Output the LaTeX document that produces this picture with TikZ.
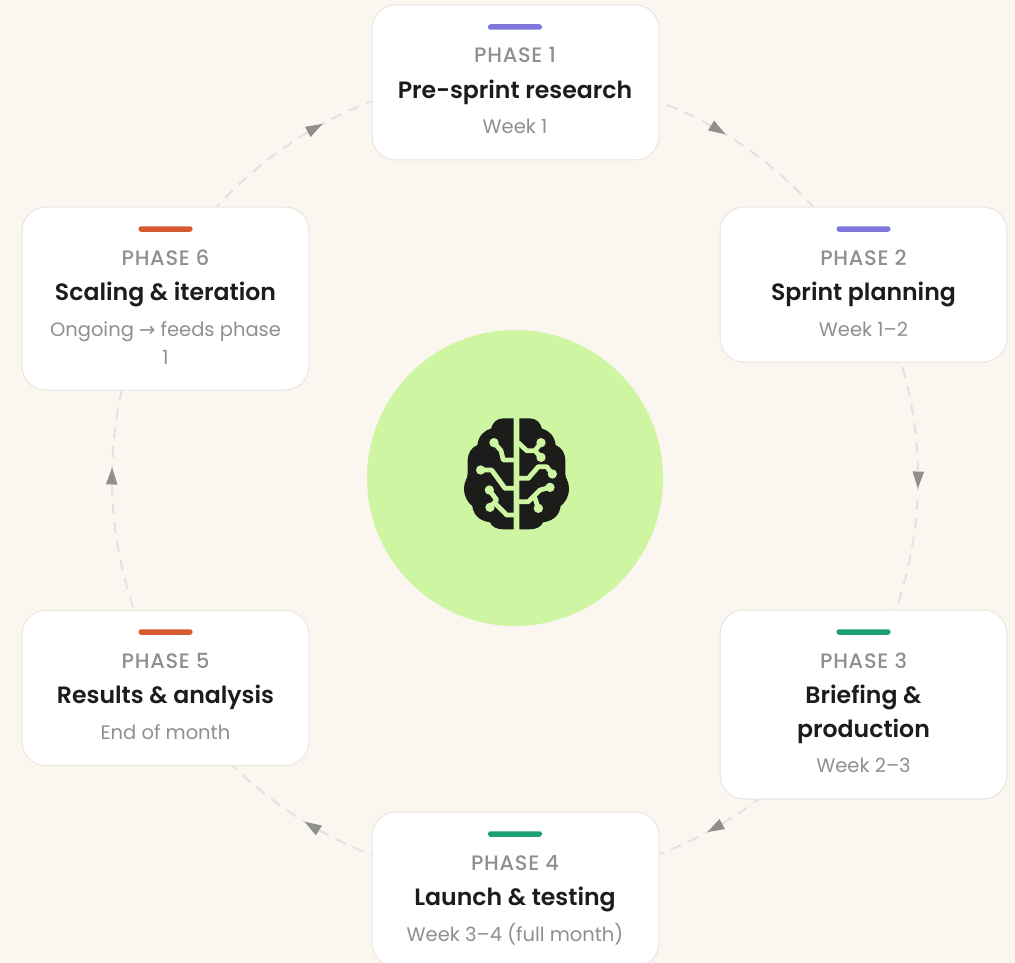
\documentclass[tikz,border=0pt]{standalone}
\usepackage{fontspec}
\setmainfont{Poppins}
\newfontfamily\arrowfont{DejaVu Sans}
\newfontfamily\medfont[LetterSpace=3.5]{Poppins Medium}
\newfontfamily\semifont{Poppins SemiBold}
\usetikzlibrary{arrows.meta,decorations.markings,calc}
\definecolor{bgc}{HTML}{FCF6F0}
\definecolor{cardline}{HTML}{E8E6E1}
\definecolor{ringc}{HTML}{E4E2DE}
\definecolor{tipc}{HTML}{8F8F8B}
\definecolor{greyt}{HTML}{8F8F8C}
\definecolor{darkt}{HTML}{1C1C1A}
\definecolor{purplec}{HTML}{7F77DD}
\definecolor{greenc}{HTML}{1D9E75}
\definecolor{orangec}{HTML}{D85A30}
\definecolor{hubc}{HTML}{CDF5A2}
\tikzset{
  card/.style={draw=cardline,line width=1pt,fill=white,rounded corners=24pt,inner sep=0pt,minimum width=287pt},
  tagbar/.style={fill=#1,rounded corners=2.5pt,inner sep=0pt,minimum width=54pt,minimum height=5.5pt},
  phaselabel/.style={anchor=base,inner sep=0pt,text=greyt,font=\fontsize{20.9}{24}\medfont},
  titlelabel/.style={anchor=base,inner sep=0pt,text=darkt,font=\fontsize{23.6}{28}\semifont},
  sublabel/.style={anchor=base,inner sep=0pt,text=greyt,font=\fontsize{19.5}{24}\selectfont},
  ring/.style={draw=ringc,line width=2pt,dash pattern=on 11pt off 8pt,dash phase=15.3pt,
    postaction={decorate},
    decoration={markings,mark=at position 0.525 with {\arrow[tipc,solid]{Triangle[length=17pt,width=11pt]}}}},
  wire/.style={draw=hubc,line width=4.8pt,line cap=round,line join=round},
  pin/.style={fill=hubc},
}
\begin{document}
\begin{tikzpicture}[x=1pt,y=-1pt]
\useasboundingbox[fill=bgc] (0,0) rectangle (1015,963);
\coordinate (p1) at ($(515,478)+(-90:403)$);
\coordinate (p2) at ($(515,478)+(-30:403)$);
\coordinate (p3) at ($(515,478)+(30:403)$);
\coordinate (p4) at ($(515,478)+(90:403)$);
\coordinate (p5) at ($(515,478)+(150:403)$);
\coordinate (p6) at ($(515,478)+(210:403)$);
\draw[ring] (p1) arc[start angle=-90,end angle=-30,radius=403];
\draw[ring] (p2) arc[start angle=-30,end angle=30,radius=403];
\draw[ring] (p3) arc[start angle=30,end angle=90,radius=403];
\draw[ring] (p4) arc[start angle=90,end angle=150,radius=403];
\draw[ring] (p5) arc[start angle=150,end angle=210,radius=403];
\draw[ring] (p6) arc[start angle=210,end angle=270,radius=403];
% hub
\node[circle,fill=hubc,inner sep=0pt,minimum size=296pt] (hub) at (515,478) {};
% cards
\node[card,minimum height=155pt] (c1) at (515.5,82.5) {};
\node[card,minimum height=155pt] (c2) at (863.5,284.5) {};
\node[card,minimum height=189pt] (c3) at (863.5,704.5) {};
\node[card,minimum height=155pt] (c4) at (515.5,889.5) {};
\node[card,minimum height=155pt] (c5) at (165.5,688) {};
\node[card,minimum height=183pt] (c6) at (165.5,298.5) {};
% bars
\node[tagbar=purplec] (b1) at (515,27) {};
\node[tagbar=purplec] (b2) at (863.5,229) {};
\node[tagbar=greenc] (b3) at (863.5,632) {};
\node[tagbar=greenc] (b4) at (515,834) {};
\node[tagbar=orangec] (b5) at (165.5,632) {};
\node[tagbar=orangec] (b6) at (165.5,229) {};
% texts
\node[phaselabel] (t1a) at (515,63) {PHASE 1};
\node[titlelabel] (t1b) at (515,98.5) {Pre-sprint research};
\node[sublabel] (t1c) at (515,134) {Week 1};
\node[phaselabel] (t2a) at (863.5,265) {PHASE 2};
\node[titlelabel] (t2b) at (863.5,300.5) {Sprint planning};
\node[sublabel] (t2c) at (863.5,336) {Week 1–2};
\node[phaselabel] (t3a) at (863.5,668) {PHASE 3};
\node[titlelabel] (t3b) at (863.5,703.5) {Briefing \&};
\node[titlelabel] (t3d) at (863.5,737) {production};
\node[sublabel] (t3c) at (863.5,772) {Week 2–3};
\node[phaselabel] (t4a) at (515,870) {PHASE 4};
\node[titlelabel] (t4b) at (515,905.5) {Launch \& testing};
\node[sublabel] (t4c) at (515,941) {Week 3–4 (full month)};
\node[phaselabel] (t5a) at (165.5,668) {PHASE 5};
\node[titlelabel] (t5b) at (165.5,703.5) {Results \& analysis};
\node[sublabel] (t5c) at (165.5,739) {End of month};
\node[phaselabel] (t6a) at (165.5,265) {PHASE 6};
\node[titlelabel] (t6b) at (165.5,300.5) {Scaling \& iteration};
\node[sublabel] (t6c) at (165.5,336) {Ongoing {\arrowfont→} feeds phase};
\node[sublabel] (t6d) at (165.5,364) {1};
% brain icon, drawn in 3x coordinates
\begin{scope}[shift={(440pt,-400pt)},x=0.33333pt,y=-0.33333pt]
\fill[darkt] (221,55) -- (190,55) .. controls (170,55) and (158,68) .. (153,86)
  .. controls (130,92) and (115,110) .. (112,135)
  .. controls (95,142) and (83,160) .. (83,180) -- (83,222)
  .. controls (83,235) and (72,245) .. (72,265)
  .. controls (72,290) and (85,310) .. (97,318)
  .. controls (100,342) and (115,362) .. (150,367)
  .. controls (155,380) and (170,388) .. (190,388) -- (221,388) -- cycle;
\fill[darkt] (238,55) -- (269,55) .. controls (289,55) and (301,68) .. (306,86)
  .. controls (329,92) and (344,110) .. (347,135)
  .. controls (364,142) and (376,160) .. (376,180) -- (376,222)
  .. controls (376,235) and (387,245) .. (387,265)
  .. controls (387,290) and (374,310) .. (362,318)
  .. controls (359,342) and (344,362) .. (309,367)
  .. controls (304,380) and (289,388) .. (269,388) -- (238,388) -- cycle;
\draw[wire] (162,128) -- (183,152) -- (190,180) -- (222,180);
\draw[wire] (122,210) -- (155,210) -- (195,265) -- (222,265);
\draw[wire] (148,270) -- (170,300) -- (150,322);
\draw[wire] (165,310) -- (200,345) -- (222,345);
\draw[wire] (237,130) -- (260,152) -- (285,152) -- (303,128);
\draw[wire] (285,152) -- (303,172);
\draw[wire] (237,235) -- (265,235) -- (295,200) -- (320,200) -- (337,222);
\draw[wire] (237,305) -- (265,305) -- (300,270) -- (330,262);
\draw[wire] (285,295) -- (295,325);
\foreach \px/\py in {162/128,122/210,148/270,150/322,303/128,303/172,337/222,330/262,295/325}
  \fill[pin] (\px,\py) circle[radius=14];
\end{scope}
\end{tikzpicture}
\end{document}
